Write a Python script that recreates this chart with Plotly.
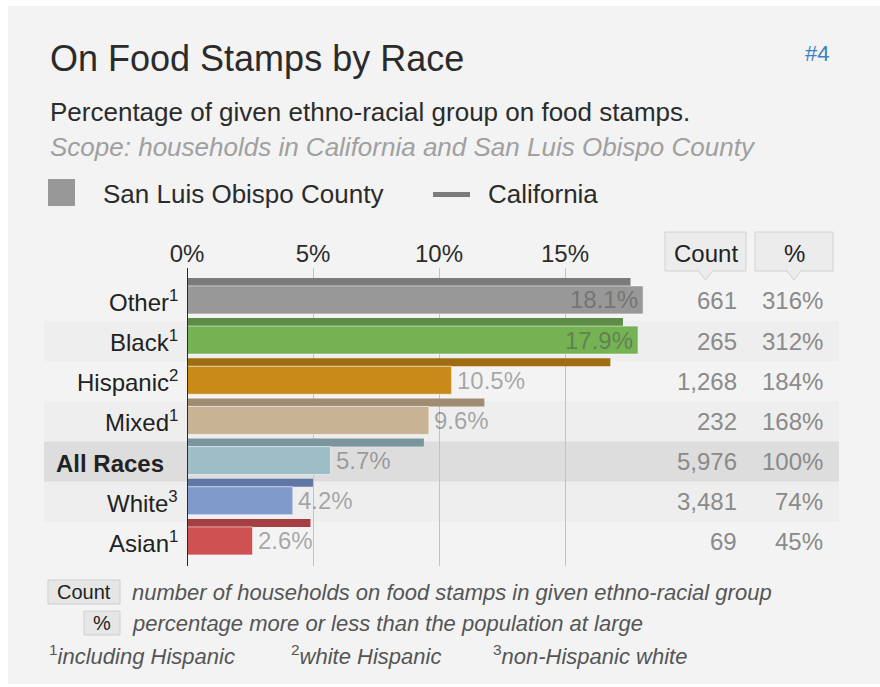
import plotly.graph_objects as go

# ---- data ----
groups = ["Other", "Black", "Hispanic", "Mixed", "All Races", "White", "Asian"]
notes = ["1", "1", "2", "1", "", "3", "1"]
slo_pct = [18.1, 17.9, 10.5, 9.6, 5.7, 4.2, 2.6]      # San Luis Obispo County
ca_pct = [17.6, 17.3, 16.8, 11.8, 9.4, 5.0, 4.9]       # California
counts = [661, 265, 1268, 232, 5976, 3481, 69]
rel_pct = [316, 312, 184, 168, 100, 74, 45]
x_ticks = [0, 5, 10, 15]

# ---- style ----
slo_colors = ["#989898", "#75b254", "#c98a17", "#c8b394", "#9fbdc7", "#7f9acb", "#cf5252"]
ca_colors = ["#7b7b7b", "#5e8c46", "#a06c10", "#a08c72", "#7b959d", "#6077a6", "#a63f42"]
band_colors = [None, "#eeeeee", None, "#eeeeee", "#dddddd", "#eeeeee", None]
W, H = 880, 687
FONT = "Liberation Sans, Arial, sans-serif"


def px(x):
    return x / W


def py(y):
    return 1 - y / H


ypos = list(range(len(groups)))
ROW = 40.16  # pixels per row

fig = go.Figure()

# California: thin bar along the top of each row
fig.add_trace(go.Bar(
    y=ypos, x=ca_pct, orientation="h",
    width=8 / ROW, offset=-23 / ROW,
    marker=dict(color=ca_colors, line=dict(width=0)),
    hoverinfo="skip", showlegend=False,
))
# San Luis Obispo County: main bar
fig.add_trace(go.Bar(
    y=ypos, x=slo_pct, orientation="h",
    width=28 / ROW, offset=-15 / ROW,
    marker=dict(color=slo_colors, line=dict(width=1, color="rgba(255,255,255,0.55)")),
    hoverinfo="skip", showlegend=False,
))

x_max = 18.5
shapes = []
ann = []

# panel background
shapes.append(dict(type="rect", xref="paper", yref="paper", x0=px(8), x1=1.0,
                   y0=py(684), y1=py(6), fillcolor="#f3f3f3", line=dict(width=0),
                   layer="below"))

# row bands
for i, c in enumerate(band_colors):
    if c:
        shapes.append(dict(type="rect", xref="paper", yref="y", x0=px(44), x1=px(839),
                           y0=i - 0.5, y1=i + 0.5, fillcolor=c, line=dict(width=0),
                           layer="below"))

# zero axis line
shapes.append(dict(type="line", xref="x", yref="paper", x0=0, x1=0,
                   y0=py(566), y1=py(268), line=dict(color="#2a2a2a", width=2),
                   layer="above"))

# title block
ann.append(dict(text="On Food Stamps by Race", x=px(48), y=py(58), xanchor="left",
                yanchor="middle", font=dict(size=36, color="#2b2b2b")))
ann.append(dict(text="#4", x=px(831), y=py(53), xanchor="right", yanchor="middle",
                font=dict(size=22, color="#3d7fc1")))
ann.append(dict(text="Percentage of given ethno-racial group on food stamps.", x=px(48),
                y=py(112), xanchor="left", yanchor="middle",
                font=dict(size=26, color="#2b2b2b")))
ann.append(dict(text="<i>Scope: households in California and San Luis Obispo County</i>",
                x=px(48), y=py(147), xanchor="left", yanchor="middle",
                font=dict(size=26, color="#a0a0a0")))

# legend
shapes.append(dict(type="rect", xref="paper", yref="paper", x0=px(48), x1=px(75),
                   y0=py(206), y1=py(179), fillcolor=slo_colors[0], line=dict(width=0)))
ann.append(dict(text="San Luis Obispo County", x=px(101), y=py(194), xanchor="left",
                yanchor="middle", font=dict(size=26, color="#2b2b2b")))
shapes.append(dict(type="rect", xref="paper", yref="paper", x0=px(433), x1=px(470),
                   y0=py(197), y1=py(192), fillcolor=ca_colors[0], line=dict(width=0)))
ann.append(dict(text="California", x=px(486), y=py(194), xanchor="left",
                yanchor="middle", font=dict(size=26, color="#2b2b2b")))

# column header boxes with pointers
for label, x0, x1 in [("Count", 665, 746), ("%", 755, 833)]:
    cx = (x0 + x1) / 2
    shapes.append(dict(type="rect", xref="paper", yref="paper", x0=px(x0), x1=px(x1),
                       y0=py(271), y1=py(232), fillcolor="#ececec",
                       line=dict(color="#d2d2d2", width=1)))
    shapes.append(dict(type="path", xref="paper", yref="paper",
                       path=f"M {px(cx - 7)} {py(271)} L {px(cx)} {py(280)} L {px(cx + 7)} {py(271)}",
                       fillcolor="#ececec", line=dict(color="#d2d2d2", width=1)))
    shapes.append(dict(type="line", xref="paper", yref="paper", x0=px(cx - 6), x1=px(cx + 6),
                       y0=py(271), y1=py(271), line=dict(color="#ececec", width=2)))
    ann.append(dict(text=label, x=px(cx), y=py(253), xanchor="center", yanchor="middle",
                    font=dict(size=24, color="#222222")))

# row labels, values, counts, relative percentages
for i, g in enumerate(groups):
    if notes[i]:
        label = f"{g}<sup>{notes[i]}</sup>"
    else:
        label = f"<b>{g}</b><sup>&nbsp;&nbsp;&nbsp;</sup>"
    ann.append(dict(text=label, x=0, xref="x", y=i, yref="y", xanchor="right",
                    yanchor="middle", xshift=-7, font=dict(size=24, color="#222222")))

    v = slo_pct[i]
    inside = v > x_max - 1.5
    ann.append(dict(text=f"{v}%", x=v, xref="x", y=i - 1 / ROW, yref="y",
                    xanchor="right" if inside else "left", yanchor="middle",
                    xshift=-3 if inside else 3,
                    font=dict(size=24, color="rgba(70,70,70,0.45)")))

    ann.append(dict(text=f"{counts[i]:,}", x=px(739), y=i, yref="y", xanchor="right",
                    yanchor="middle", font=dict(size=24, color="#8a8a8a")))
    ann.append(dict(text=f"{rel_pct[i]}%", x=px(825), y=i, yref="y", xanchor="right",
                    yanchor="middle", font=dict(size=24, color="#8a8a8a")))

# key at the bottom
for label, x0, x1, y0, y1 in [("Count", 48, 120, 580, 604), ("%", 84, 120, 611, 635)]:
    shapes.append(dict(type="rect", xref="paper", yref="paper", x0=px(x0), x1=px(x1),
                       y0=py(y1), y1=py(y0), fillcolor="#e6e6e6",
                       line=dict(color="#cfcfcf", width=1)))
    ann.append(dict(text=label, x=px((x0 + x1) / 2), y=py((y0 + y1) / 2), xanchor="center",
                    yanchor="middle", font=dict(size=20, color="#222222")))
ann.append(dict(text="<i>number of households on food stamps in given ethno-racial group</i>",
                x=px(130), y=py(592), xanchor="left", yanchor="middle",
                font=dict(size=22, color="#555555")))
ann.append(dict(text="<i>percentage more or less than the population at large</i>",
                x=px(130), y=py(623), xanchor="left", yanchor="middle",
                font=dict(size=22, color="#555555")))
for note, x in [("<sup>1</sup><i>including Hispanic</i>", 47),
                ("<sup>2</sup><i>white Hispanic</i>", 289),
                ("<sup>3</sup><i>non-Hispanic white</i>", 491)]:
    ann.append(dict(text=note, x=px(x), y=py(655), xanchor="left", yanchor="middle",
                    font=dict(size=22, color="#555555")))

for a in ann:
    a.setdefault("xref", "paper")
    a.setdefault("yref", "paper")
    a["showarrow"] = False

fig.update_layout(
    width=W, height=H,
    margin=dict(l=0, r=0, t=0, b=0, autoexpand=False),
    paper_bgcolor="#ffffff",
    plot_bgcolor="rgba(0,0,0,0)",
    barmode="overlay",
    font=dict(family=FONT),
    xaxis=dict(
        domain=[px(187), px(187 + x_max * 25.2)],
        range=[0, x_max], side="top",
        tickvals=x_ticks, ticktext=[f"{t}%" for t in x_ticks],
        tickfont=dict(size=24, color="#2b2b2b"),
        showgrid=True, gridcolor="#c2c2c2", gridwidth=1,
        zeroline=False, showline=False, ticks="", fixedrange=True,
        automargin=False,
    ),
    yaxis=dict(
        domain=[py(566), py(268)],
        range=[6.6, -0.82],
        showticklabels=False, showgrid=False, zeroline=False, showline=False,
        fixedrange=True, automargin=False,
    ),
    shapes=shapes,
    annotations=ann,
)

fig.write_html("out.html", config={"displayModeBar": False})
